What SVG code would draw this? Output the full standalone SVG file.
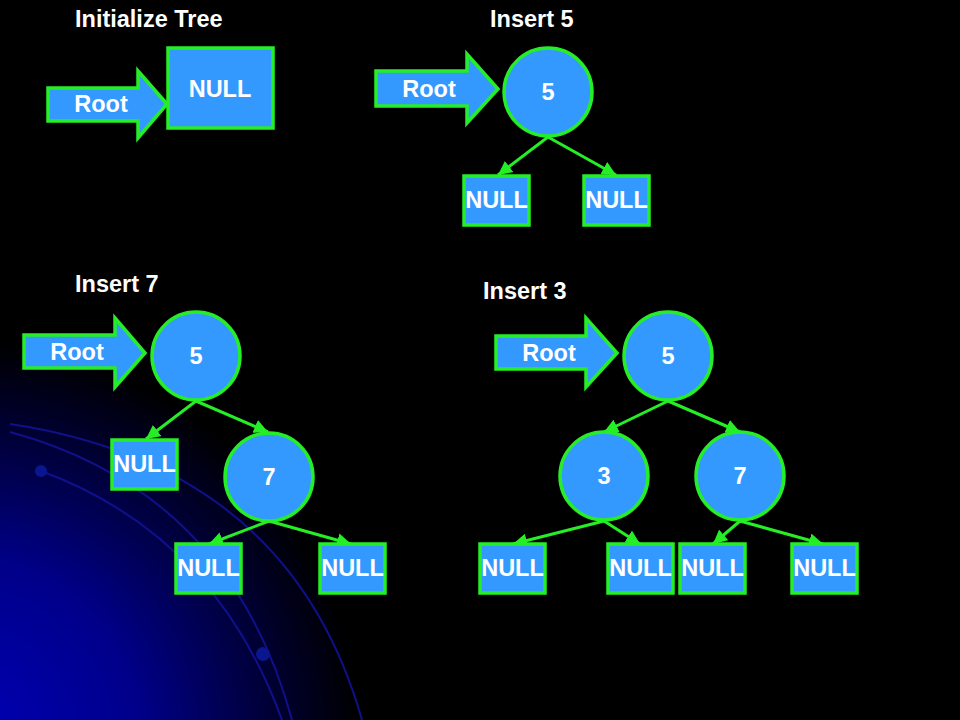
<svg xmlns="http://www.w3.org/2000/svg" width="960" height="720" viewBox="0 0 960 720">
<defs>
<radialGradient id="bg" gradientUnits="userSpaceOnUse" cx="-40" cy="740" r="400">
<stop offset="0" stop-color="#0000b8"/>
<stop offset="0.45" stop-color="#00008a"/>
<stop offset="0.8" stop-color="#000030"/>
<stop offset="1" stop-color="#000000"/>
</radialGradient>
<marker id="ah" markerUnits="userSpaceOnUse" markerWidth="14" markerHeight="14" refX="10" refY="5" orient="auto" viewBox="0 0 10 10">
<path d="M0,0 L10,5 L0,10 Z" fill="#26ee26"/>
</marker>
<style>
.box{fill:#3399ff;stroke:#26ee26;stroke-width:3.5}
.node{fill:#3399ff;stroke:#26ee26;stroke-width:3.5}
.arrow{fill:#3399ff;stroke:#26ee26;stroke-width:3.5;stroke-linejoin:miter}
.t{font-family:"Liberation Sans",Arial,sans-serif;font-weight:bold;font-size:23.5px;fill:#ffffff}
.c{text-anchor:middle}
.edge{stroke:#26ee26;stroke-width:3;fill:none;marker-end:url(#ah)}
.arc{stroke:#10108a;stroke-width:2;fill:none}
</style>
</defs>
<rect width="960" height="720" fill="#000"/>
<rect width="960" height="720" fill="url(#bg)"/>
<g id="decor">
<path class="arc" d="M10,424 Q290,466 362,720"/>
<path class="arc" d="M10,432 Q230,492 292,720"/>
<path class="arc" d="M41,471 Q215,535 282,720"/>
<circle cx="41" cy="471" r="6" fill="#0a1590"/>
<circle cx="263" cy="654" r="7" fill="#0a1590"/>
</g>

<g id="titles">
<text class="t" x="75" y="27">Initialize Tree</text>
<text class="t" x="490" y="27">Insert 5</text>
<text class="t" x="75" y="292">Insert 7</text>
<text class="t" x="483" y="299">Insert 3</text>
</g>

<g id="connectors">
<line class="edge" x1="548" y1="137" x2="498" y2="175"/>
<line class="edge" x1="548" y1="137" x2="616" y2="175"/>
<line class="edge" x1="196" y1="401" x2="146" y2="439"/>
<line class="edge" x1="196" y1="401" x2="268" y2="432"/>
<line class="edge" x1="269" y1="521" x2="209" y2="544"/>
<line class="edge" x1="269" y1="521" x2="351" y2="544"/>
<line class="edge" x1="668" y1="401" x2="604" y2="432"/>
<line class="edge" x1="668" y1="401" x2="740" y2="432"/>
<line class="edge" x1="604" y1="521" x2="513" y2="544"/>
<line class="edge" x1="604" y1="521" x2="640" y2="544"/>
<line class="edge" x1="740" y1="521" x2="713" y2="544"/>
<line class="edge" x1="740" y1="521" x2="823" y2="544"/>
</g>

<g id="p1-root">
<path class="arrow" d="M48,88 H138 V71 L167,104 L138,138 V121 H48 Z"/>
<text class="t c" x="101" y="112">Root</text>
</g>
<g id="p1-null">
<rect class="box" x="168" y="48" width="105" height="80"/>
<text class="t c" x="220" y="97">NULL</text>
</g>

<g id="p2-root">
<path class="arrow" d="M376,71 H467 V54 L498,89 L467,123 V106 H376 Z"/>
<text class="t c" x="429" y="97">Root</text>
</g>
<g id="p2-n5">
<circle class="node" cx="548" cy="92" r="44"/>
<text class="t c" x="548" y="100">5</text>
</g>
<g id="p2-null-l">
<rect class="box" x="464" y="176" width="65" height="49"/>
<text class="t c" x="496.5" y="208">NULL</text>
</g>
<g id="p2-null-r">
<rect class="box" x="584" y="176" width="65" height="49"/>
<text class="t c" x="616.5" y="208">NULL</text>
</g>

<g id="p3-root">
<path class="arrow" d="M24,335 H115 V318 L145,353 L115,387 V368 H24 Z"/>
<text class="t c" x="77" y="360">Root</text>
</g>
<g id="p3-n5">
<circle class="node" cx="196" cy="356" r="44"/>
<text class="t c" x="196" y="364">5</text>
</g>
<g id="p3-null-a">
<rect class="box" x="112" y="440" width="65" height="49"/>
<text class="t c" x="144.5" y="472">NULL</text>
</g>
<g id="p3-n7">
<circle class="node" cx="269" cy="477" r="44"/>
<text class="t c" x="269" y="485">7</text>
</g>
<g id="p3-null-b">
<rect class="box" x="176" y="544" width="65" height="49"/>
<text class="t c" x="208.5" y="576">NULL</text>
</g>
<g id="p3-null-c">
<rect class="box" x="320" y="544" width="65" height="49"/>
<text class="t c" x="352.5" y="576">NULL</text>
</g>

<g id="p4-root">
<path class="arrow" d="M496,336 H586 V318 L617,353 L586,387 V369 H496 Z"/>
<text class="t c" x="549" y="361">Root</text>
</g>
<g id="p4-n5">
<circle class="node" cx="668" cy="356" r="44"/>
<text class="t c" x="668" y="364">5</text>
</g>
<g id="p4-n3">
<circle class="node" cx="604" cy="476" r="44"/>
<text class="t c" x="604" y="484">3</text>
</g>
<g id="p4-n7">
<circle class="node" cx="740" cy="476" r="44"/>
<text class="t c" x="740" y="484">7</text>
</g>
<g id="p4-null-a">
<rect class="box" x="480" y="544" width="65" height="49"/>
<text class="t c" x="512.5" y="576">NULL</text>
</g>
<g id="p4-null-b">
<rect class="box" x="608" y="544" width="65" height="49"/>
<text class="t c" x="640.5" y="576">NULL</text>
</g>
<g id="p4-null-c">
<rect class="box" x="680" y="544" width="65" height="49"/>
<text class="t c" x="712.5" y="576">NULL</text>
</g>
<g id="p4-null-d">
<rect class="box" x="792" y="544" width="65" height="49"/>
<text class="t c" x="824.5" y="576">NULL</text>
</g>
</svg>
